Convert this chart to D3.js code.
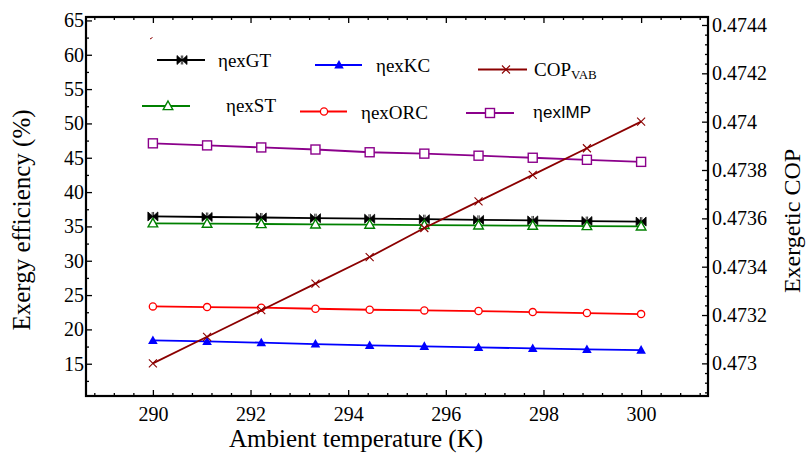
<!DOCTYPE html>
<html><head><meta charset="utf-8">
<script src="https://cdn.jsdelivr.net/npm/d3@7/dist/d3.min.js"></script>
<style>
html,body{margin:0;padding:0;background:#fff;}
svg text{font-family:"Liberation Serif","Tinos","Times New Roman","Times","DejaVu Serif","Noto Serif",serif;fill:#000;}
</style></head>
<body>
<svg id="chart" width="806" height="455"></svg>
<script>
// ---- data ----
const temps = [290, 291.11, 292.22, 293.33, 294.44, 295.56, 296.67, 297.78, 298.89, 300];
const exGT  = [36.45, 36.37, 36.3, 36.2, 36.12, 36.05, 35.95, 35.87, 35.78, 35.7];
const exKC  = [18.4, 18.25, 18.07, 17.87, 17.67, 17.53, 17.38, 17.23, 17.09, 16.99];
const exST  = [35.45, 35.4, 35.35, 35.3, 35.26, 35.2, 35.15, 35.1, 35.05, 35.0];
const exORC = [23.35, 23.25, 23.16, 23.01, 22.86, 22.77, 22.67, 22.52, 22.38, 22.23];
const exIMP = [47.1, 46.8, 46.5, 46.2, 45.8, 45.6, 45.3, 45.0, 44.7, 44.4];
const copVAB = [0.4730, 0.47311, 0.47322, 0.47333, 0.47344, 0.47356, 0.47367, 0.47378, 0.47389, 0.4740];

const xTicks = [290, 292, 294, 296, 298, 300];
const yLeftTicks = [15, 20, 25, 30, 35, 40, 45, 50, 55, 60, 65];
const yRightTicks = [0.473, 0.4732, 0.4734, 0.4736, 0.4738, 0.474, 0.4742, 0.4744];

const SERIF = '"Liberation Serif","Tinos","Times New Roman","Times","DejaVu Serif","Noto Serif",serif';
const SANS = '"Liberation Sans",Arial,"Arimo",sans-serif';

// ---- layout ----
const L = 86, R = 708, T = 17, B = 396;
const svg = d3.select("#chart");
const x = d3.scaleLinear().domain([288.63, 301.37]).range([L, R]);
const yL = d3.scaleLinear().domain([10.3, 65.5]).range([B, T]);
const yR = d3.scaleLinear().domain([0.472865, 0.474433]).range([B, T]);

const xMinor = d3.range(288.8, 301.3, 0.4).map(v => +v.toFixed(2)).filter(v => !xTicks.includes(v));
const yLMinor = d3.range(12.5, 65, 5);
const yRMinor = d3.range(0.47288, 0.47443, 0.00004).map(v => +v.toFixed(5)).filter(v => !yRightTicks.some(t => Math.abs(t - v) < 1e-7));

function styleAxis(g) {
  g.attr("font-family", null);
  g.select(".domain").remove();
  g.selectAll(".tick line").attr("stroke", "#000").attr("stroke-width", 1.3);
  g.selectAll(".tick text").style("font-family", SERIF).style("font-size", "20px").attr("fill", "#000");
}

// bottom
svg.append("g").attr("transform", `translate(0,${B})`)
  .call(d3.axisBottom(x).tickValues(xTicks).tickSize(-6).tickPadding(11).tickFormat(d3.format("d"))).call(styleAxis);
svg.append("g").attr("transform", `translate(0,${B})`)
  .call(d3.axisBottom(x).tickValues(xMinor).tickSize(-3).tickFormat("")).call(styleAxis);
// top
svg.append("g").attr("transform", `translate(0,${T})`)
  .call(d3.axisTop(x).tickValues(xTicks).tickSize(-6).tickFormat("")).call(styleAxis);
svg.append("g").attr("transform", `translate(0,${T})`)
  .call(d3.axisTop(x).tickValues(xMinor).tickSize(-3).tickFormat("")).call(styleAxis);
// left
svg.append("g").attr("transform", `translate(${L},0)`)
  .call(d3.axisLeft(yL).tickValues(yLeftTicks).tickSize(-6).tickPadding(2).tickFormat(d3.format("d"))).call(styleAxis);
svg.append("g").attr("transform", `translate(${L},0)`)
  .call(d3.axisLeft(yL).tickValues(yLMinor).tickSize(-3).tickFormat("")).call(styleAxis);
// right
svg.append("g").attr("transform", `translate(${R},0)`)
  .call(d3.axisRight(yR).tickValues(yRightTicks).tickSize(-6).tickPadding(4).tickFormat(d => String(+d.toFixed(4)))).call(styleAxis);
svg.append("g").attr("transform", `translate(${R},0)`)
  .call(d3.axisRight(yR).tickValues(yRMinor).tickSize(-3).tickFormat("")).call(styleAxis);

// frame
svg.append("rect").attr("x", L).attr("y", T).attr("width", R - L).attr("height", B - T)
  .attr("fill", "none").attr("stroke", "#000").attr("stroke-width", 2.2);

// axis titles
svg.append("text").attr("x", 356).attr("y", 447).attr("text-anchor", "middle")
  .style("font-family", SERIF).style("font-size", "25px").text("Ambient temperature (K)");
svg.append("text").attr("transform", "translate(30,220) rotate(-90)").attr("text-anchor", "middle")
  .style("font-family", SERIF).style("font-size", "25px").text("Exergy efficiency (%)");
svg.append("text").attr("transform", "translate(800,221) rotate(-90)").attr("text-anchor", "middle")
  .style("font-family", SERIF).style("font-size", "24px").text("Exergetic COP");

// markers
const bowtie = "M-5,-4.5L0,0L-5,4.5Z M5,-4.5L0,0L5,4.5Z M-0.7,-4.5V4.5M0.7,-4.5V4.5";
const tri = "M0,-5L4.8,3.6L-4.8,3.6Z";
const xmark = "M-4,-4L4,4M-4,4L4,-4";
function drawMarker(g, kind, color, cx, cy) {
  if (kind === "bowtie") g.append("path").attr("d", bowtie).attr("transform", `translate(${cx},${cy})`).attr("fill", color).attr("stroke", color).attr("stroke-width", 0.8);
  else if (kind === "triFill") g.append("path").attr("d", tri).attr("transform", `translate(${cx},${cy})`).attr("fill", color);
  else if (kind === "triOpen") g.append("path").attr("d", tri).attr("transform", `translate(${cx},${cy})`).attr("fill", "#fff").attr("stroke", color).attr("stroke-width", 1.4);
  else if (kind === "circle") g.append("circle").attr("cx", cx).attr("cy", cy).attr("r", 3.6).attr("fill", "#fff").attr("stroke", color).attr("stroke-width", 1.3);
  else if (kind === "square") g.append("rect").attr("x", cx - 4.5).attr("y", cy - 4.5).attr("width", 9).attr("height", 9).attr("fill", "#fff").attr("stroke", color).attr("stroke-width", 1.4);
  else if (kind === "x") g.append("path").attr("d", xmark).attr("transform", `translate(${cx},${cy})`).attr("fill", "none").attr("stroke", color).attr("stroke-width", 1.1);
}

const series = [
  {vals: exIMP, scale: yL, color: "#8b008b", kind: "square"},
  {vals: exGT, scale: yL, color: "#000000", kind: "bowtie"},
  {vals: exST, scale: yL, color: "#008000", kind: "triOpen"},
  {vals: exORC, scale: yL, color: "#ff0000", kind: "circle"},
  {vals: exKC, scale: yL, color: "#0000ff", kind: "triFill"},
  {vals: copVAB, scale: yR, color: "#8b0000", kind: "x"}
];
series.forEach(s => {
  const g = svg.append("g");
  const line = d3.line().x((d, i) => x(temps[i])).y(d => s.scale(d));
  g.append("path").datum(s.vals).attr("d", line).attr("fill", "none").attr("stroke", s.color).attr("stroke-width", 1.8);
  s.vals.forEach((v, i) => drawMarker(g, s.kind, s.color, x(temps[i]), s.scale(v)));
});

// legend
const leg = svg.append("g");
const legendItems = [
  {x1: 157, x2: 205, y: 60, mx: 182, kind: "bowtie", color: "#000000", tx: 218, ty: 66.5, label: "exGT"},
  {x1: 315, x2: 362, y: 65, mx: 339, kind: "triFill", color: "#0000ff", tx: 376, ty: 71.5, label: "exKC"},
  {x1: 478, x2: 527, y: 69.5, mx: 506, kind: "x", color: "#8b0000", tx: 534, ty: 76, label: "COP"},
  {x1: 142, x2: 190, y: 106, mx: 168, kind: "triOpen", color: "#008000", tx: 226, ty: 111.5, label: "exST"},
  {x1: 300, x2: 347, y: 111.5, mx: 324, kind: "circle", color: "#ff0000", tx: 361, ty: 118.5, label: "exORC"},
  {x1: 466, x2: 514, y: 113, mx: 490, kind: "square", color: "#8b008b", tx: 533, ty: 117.5, label: "exIMP"}
];
legendItems.forEach(it => {
  leg.append("line").attr("x1", it.x1).attr("x2", it.x2).attr("y1", it.y).attr("y2", it.y).attr("stroke", it.color).attr("stroke-width", 1.8);
  drawMarker(leg, it.kind, it.color, it.mx, it.y);
  const t = leg.append("text").attr("x", it.tx).attr("y", it.ty).style("font-family", SERIF).style("font-size", "19px");
  if (it.label === "COP") {
    t.append("tspan").text("COP");
    t.append("tspan").attr("dy", 3).style("font-size", "13px").text("VAB");
  } else if (it.label === "exIMP") {
    t.append("tspan").text("η");
    t.append("tspan").style("font-family", SANS).style("font-size", "17px").text("exIMP");
  } else {
    t.append("tspan").text("η");
    t.append("tspan").text(it.label);
  }
});
// small stray mark near the legend
leg.append("line").attr("x1", 150).attr("y1", 39).attr("x2", 152.5).attr("y2", 37.5).attr("stroke", "#8b0000").attr("stroke-width", 1);
</script>
</body></html>
